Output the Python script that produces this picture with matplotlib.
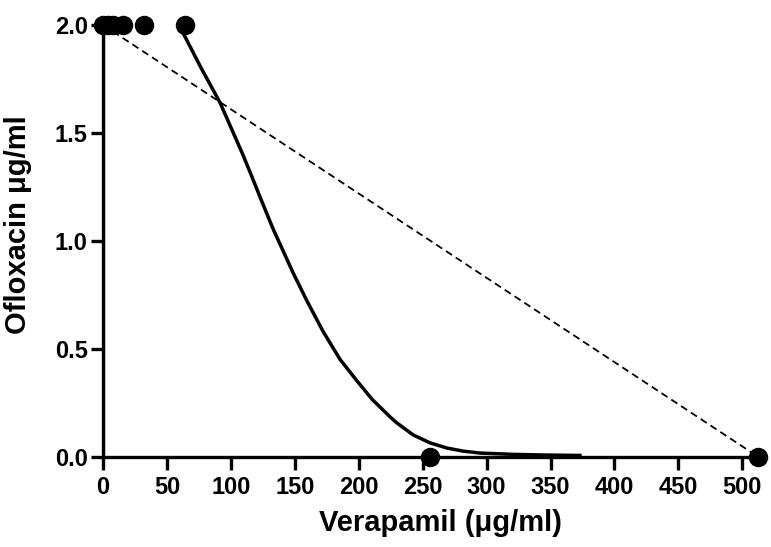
import matplotlib
matplotlib.use("Agg")
import matplotlib.pyplot as plt

plt.rcParams['font.family'] = ['Liberation Sans', 'DejaVu Sans']
plt.rcParams['font.weight'] = 'bold'

# measured points (verapamil, ofloxacin)
top_x = [0, 4, 8, 16, 32, 64]
top_y = [2.0, 2.0, 2.0, 2.0, 2.0, 2.0]
bottom_x = [256, 512]
bottom_y = [0.0, 0.0]

# fitted curve
curve_x = [62.6, 76.7, 91.5, 100.2, 108.8, 115.0, 123.0, 133.0, 148.7, 159.6,
           172.1, 185.4, 198.7, 210.5, 224.6, 230.0, 242.6, 255.9, 269.2,
           281.7, 295.0, 320.8, 345.0, 373.0]
curve_y = [1.963, 1.801, 1.640, 1.523, 1.407, 1.318, 1.200, 1.055, 0.851, 0.720,
           0.580, 0.450, 0.350, 0.265, 0.183, 0.155, 0.100, 0.063, 0.039,
           0.025, 0.016, 0.010, 0.007, 0.005]

# additivity line ends
add_x = [0, 512]
add_y = [2.0, 0.0]

fig = plt.figure(figsize=(7.71, 5.47), dpi=100)
ax = fig.add_axes([0.1336, 0.1654, 0.8524, 0.789])

ax.plot([0, 0], [0, 2.0], color='black', lw=3, solid_capstyle='butt', zorder=3)
ax.plot(curve_x, curve_y, color='black', lw=2.5, zorder=3, solid_joinstyle='round')
ax.plot(add_x, add_y, color='black', lw=1.3, ls=(0, (4, 2.5)), zorder=2)
ax.plot(top_x, top_y, 'o', color='black', ms=13, clip_on=False, zorder=4)
ax.plot(bottom_x, bottom_y, 'o', color='black', ms=13, clip_on=False, zorder=4)

ax.set_xlim(0, 514)
ax.set_ylim(0, 2.0)
ax.set_xticks(range(0, 501, 50))
ax.set_yticks([0.0, 0.5, 1.0, 1.5, 2.0])
ax.set_yticklabels(['0.0', '0.5', '1.0', '1.5', '2.0'])

for s in ['top', 'right']:
    ax.spines[s].set_visible(False)
for s in ['left', 'bottom']:
    ax.spines[s].set_linewidth(2.4)
ax.tick_params(direction='out', length=9, width=2.4, labelsize=17)
ax.tick_params(axis='x', pad=5)
ax.tick_params(axis='y', pad=2)

ax.set_xlabel('Verapamil (\u03bcg/ml)', fontsize=21, fontweight='bold')
ax.set_ylabel('Ofloxacin \u03bcg/ml', fontsize=21, fontweight='bold')
ax.xaxis.set_label_coords(0.514, -0.122)
ax.yaxis.set_label_coords(-0.108, 0.537)

fig.savefig('out.png', dpi=100)
